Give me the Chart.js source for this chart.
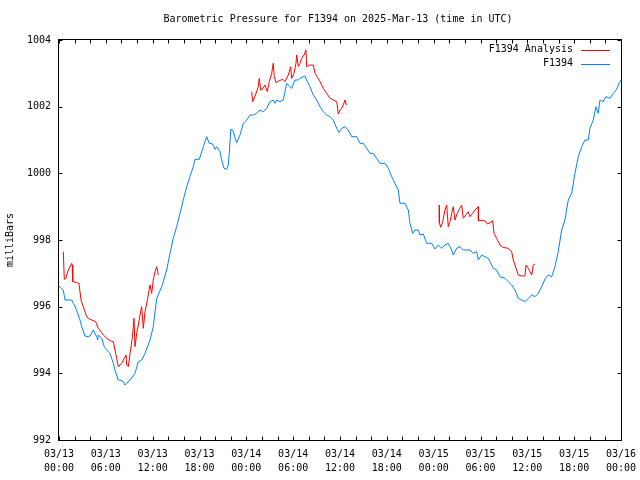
<!DOCTYPE html>
<html>
<head>
<meta charset="utf-8">
<script src="https://cdn.jsdelivr.net/npm/chart.js@4/dist/chart.umd.min.js"></script>
<style>
  html, body { margin: 0; padding: 0; background: #fff; }
  #wrap { width: 640px; height: 480px; }
</style>
</head>
<body>
<div id="wrap"><canvas id="c" width="640" height="480"></canvas></div>
<script>
// ---- Data (hours since 2025-03-13 00:00 UTC, pressure in milliBars) ----
const chartTitle = "Barometric Pressure for F1394 on 2025-Mar-13 (time in UTC)";
const yAxisTitle = "milliBars";
const seriesNames = ["F1394 Analysis", "F1394"];

const xTickLabels = [
  ["03/13","00:00"],["03/13","06:00"],["03/13","12:00"],["03/13","18:00"],
  ["03/14","00:00"],["03/14","06:00"],["03/14","12:00"],["03/14","18:00"],
  ["03/15","00:00"],["03/15","06:00"],["03/15","12:00"],["03/15","18:00"],
  ["03/16","00:00"]
];

const stationHours = [
  0,0.55,0.77,1.63,1.83,2.14,2.47,2.69,2.91,3.33,3.75,3.97,4.39,4.83,4.96,5.03,5.47,5.8,6.11,6.53,
  6.96,7.17,7.6,7.81,8.24,8.46,8.67,9.1,9.74,10.16,10.59,11.02,11.66,12.08,12.52,13.16,13.8,14.22,14.64,15.08,
  15.5,15.92,16.36,16.78,17.2,17.42,17.97,18.49,18.92,19.25,19.69,19.98,20.2,20.63,20.84,21.14,21.48,21.69,21.82,22.0,
  22.25,22.76,23.19,23.61,24.05,24.47,24.89,25.33,25.75,26.17,26.61,27.03,27.45,27.67,27.89,28.31,28.73,29.17,29.59,29.81,
  30.23,30.66,30.87,31.3,31.51,31.73,32.15,32.58,33.01,33.44,33.86,34.29,34.72,35.14,35.58,35.87,36.22,36.64,37.06,37.5,
  38.14,38.56,38.98,39.42,39.84,40.26,40.7,41.12,41.76,42.19,42.62,43.04,43.47,43.68,44.32,44.75,44.97,45.31,45.61,46.03,
  46.25,46.67,47.11,47.75,48.17,48.59,49.03,49.45,49.87,50.31,50.51,50.95,51.37,51.79,52.65,53.07,53.51,53.72,54.15,54.57,
  55.0,55.21,55.64,56.07,56.5,57.14,57.56,57.99,58.42,58.84,59.27,59.7,60.12,60.56,60.98,61.4,61.84,62.26,62.68,63.12,
  63.54,63.96,64.4,64.82,65.24,65.68,66.1,66.53,66.96,67.38,67.81,68.02,68.45,68.79,69.09,69.3,69.73,70.07,70.58,71.01,
  71.44,71.78,72
];
const stationValues = [
  996.62,996.5,996.2,996.2,996.1,995.96,995.75,995.6,995.4,995.12,995.1,995.12,995.3,995.1,995.0,995.15,995.05,994.8,994.7,994.6,
  994.3,994.1,993.8,993.8,993.75,993.65,993.7,993.8,994.0,994.35,994.4,994.6,995.0,995.4,996.25,996.6,997.1,997.6,998.06,998.4,
  998.8,999.2,999.6,999.9,1000.2,1000.42,1000.42,1000.8,1001.1,1000.9,1000.88,1000.72,1000.8,1000.65,1000.4,1000.15,1000.12,1000.25,1000.6,1001.32,
  1001.3,1000.92,1001.15,1001.5,1001.6,1001.75,1001.75,1001.8,1001.9,1001.85,1001.95,1002.15,1002.2,1002.1,1002.2,1002.15,1002.2,1002.7,1002.6,1002.55,
  1002.8,1002.8,1002.85,1002.9,1002.92,1002.8,1002.6,1002.35,1002.2,1002.0,1001.85,1001.75,1001.7,1001.6,1001.35,1001.22,1001.35,1001.4,1001.3,1001.1,
  1001.1,1000.9,1000.9,1000.75,1000.6,1000.6,1000.45,1000.3,1000.3,1000.15,999.9,999.7,999.5,999.1,999.1,998.9,998.5,998.2,998.3,998.3,
  998.15,998.18,997.9,997.9,997.73,997.85,997.75,997.85,997.9,997.7,997.55,997.75,997.8,997.7,997.7,997.6,997.65,997.4,997.55,997.5,
  997.45,997.35,997.15,997.1,996.9,996.85,996.75,996.65,996.5,996.25,996.2,996.15,996.25,996.35,996.3,996.4,996.6,996.83,996.95,996.9,
  997.2,997.65,998.3,998.6,999.2,999.4,1000.0,1000.5,1000.8,1001.0,1001.0,1001.35,1001.6,1002.0,1001.8,1002.2,1002.15,1002.3,1002.25,1002.4,
  1002.52,1002.72,1002.8
];

// Analysis series: null marks a gap between runs
const analysisHours = [
  0.55,0.68,0.86,1.19,1.63,1.7,1.76,2.27,2.56,2.82,3.11,3.55,3.75,4.19,4.7,5.03,5.47,5.68,6.11,6.53,
  6.96,7.26,7.6,7.81,8.03,8.46,8.58,8.67,8.88,9.1,9.39,9.61,9.74,9.95,10.16,10.38,10.59,10.8,11.02,11.36,
  11.66,11.88,12.08,12.3,12.52,12.72,
  18.0,
  24.69,24.81,25.1,25.53,25.66,25.84,25.97,26.39,26.69,26.94,27.25,27.45,27.58,27.8,28.22,28.66,28.95,29.38,29.68,29.81,
  30.11,30.36,30.45,30.66,30.87,31.09,31.39,31.64,31.73,32.15,32.58,32.8,33.09,33.44,33.86,34.29,34.72,35.14,35.58,35.78,
  36.0,36.22,36.42,36.64,36.77,36.93,
  42.0,
  48.72,48.73,48.9,49.15,49.45,49.67,49.87,50.09,50.31,50.51,50.73,51.02,51.28,51.59,51.79,52.14,52.43,52.65,52.99,53.29,
  53.72,53.73,54.57,54.87,55.21,55.56,55.73,56.07,56.5,56.84,57.56,57.99,58.2,58.63,58.84,59.27,59.7,59.83,60.12,60.56,
  60.76,60.98
];
const analysisValues = [
  997.65,996.82,996.85,997.1,997.3,997.25,996.75,996.72,996.7,996.2,996.0,995.7,995.65,995.6,995.55,995.35,995.22,995.15,995.05,994.98,
  994.95,994.6,994.2,994.25,994.3,994.5,994.55,994.25,994.2,994.6,995.05,995.65,994.8,995.2,995.45,995.75,996.0,995.35,995.85,996.25,
  996.65,996.4,996.8,997.05,997.2,996.95,
  null,
  1002.45,1002.15,1002.3,1002.6,1002.85,1002.5,1002.5,1002.65,1002.45,1002.75,1003.0,1003.3,1002.9,1002.72,1002.78,1002.82,1002.75,1002.95,1003.2,1002.85,
  1003.0,1003.3,1003.55,1003.2,1003.3,1003.45,1003.55,1003.7,1003.2,1003.25,1003.25,1003.0,1002.9,1002.75,1002.55,1002.4,1002.25,1002.2,1002.15,1001.78,
  1001.9,1001.95,1002.05,1002.2,1002.08,1002.05,
  null,
  999.05,998.52,998.38,998.55,998.9,999.05,998.4,998.55,998.8,999.0,998.6,998.8,998.92,999.05,998.65,998.75,998.85,998.7,998.8,998.9,
  999.0,998.58,998.58,998.48,998.52,998.58,998.2,998.05,997.85,997.78,997.75,997.65,997.4,997.1,996.95,996.92,996.92,997.25,997.15,996.95,
  997.25,997.28
];

const colors = ["rgb(255,0,0)", "rgb(0,128,255)"];
const FONT = "'DejaVu Sans Mono', 'Liberation Mono', monospace";

const toXY = (xs, ys) => xs.map((x, i) => ({ x: x, y: ys[i] }));

const framePlugin = {
  id: 'frame',
  afterDraw(chart) {
    const ctx = chart.ctx;
    const a = chart.chartArea;
    const xs = chart.scales.x, ys = chart.scales.y;
    ctx.save();
    // title
    ctx.font = "10px " + FONT;
    ctx.fillStyle = '#000';
    ctx.textAlign = 'center';
    ctx.textBaseline = 'middle';
    ctx.fillText(chartTitle, (a.left + a.right) / 2 - 2, 19);
    // frame
    ctx.strokeStyle = '#000';
    ctx.lineWidth = 1;
    const L = Math.round(a.left) - 0.5, R = Math.round(a.right) + 0.5;
    const T = Math.round(a.top) - 0.5, B = Math.round(a.bottom) + 0.5;
    ctx.strokeRect(L, T, R - L, B - T);
    const tl = 4;
    ctx.beginPath();
    xs.ticks.forEach(t => {
      const px = Math.round(xs.getPixelForValue(t.value)) + 0.5;
      ctx.moveTo(px, B); ctx.lineTo(px, B - tl);
      ctx.moveTo(px, T); ctx.lineTo(px, T + tl);
    });
    ys.ticks.forEach(t => {
      const py = Math.round(ys.getPixelForValue(t.value)) + 0.5;
      ctx.moveTo(L, py); ctx.lineTo(L + tl, py);
      ctx.moveTo(R, py); ctx.lineTo(R - tl, py);
    });
    ctx.stroke();
    // legend inside top-right
    ctx.textAlign = 'right';
    const textRight = a.right - 48;
    const lineL = a.right - 40, lineR = a.right - 11;
    chart.data.datasets.forEach((ds, i) => {
      const y = a.top + 9.5 + i * 14;
      ctx.fillStyle = '#000';
      ctx.fillText(ds.label, textRight, y);
      ctx.strokeStyle = ds.borderColor;
      ctx.beginPath();
      ctx.moveTo(lineL, Math.round(y) + 0.5);
      ctx.lineTo(lineR, Math.round(y) + 0.5);
      ctx.stroke();
    });
    ctx.restore();
  }
};

new Chart(document.getElementById('c'), {
  type: 'line',
  data: {
    datasets: [
      { label: seriesNames[0], data: toXY(analysisHours, analysisValues), borderColor: colors[0],
        borderWidth: 1, pointRadius: 0, tension: 0, spanGaps: false, fill: false },
      { label: seriesNames[1], data: toXY(stationHours, stationValues), borderColor: colors[1],
        borderWidth: 1, pointRadius: 0, tension: 0, fill: false }
    ]
  },
  options: {
    responsive: false,
    animation: false,
    devicePixelRatio: 1,
    layout: { padding: { left: 0, right: 19, top: 40, bottom: 0 } },
    plugins: {
      legend: { display: false },
      tooltip: { enabled: false },
      title: { display: false }
    },
    scales: {
      x: {
        type: 'linear', min: 0, max: 72,
        grid: { display: false, drawTicks: false },
        border: { display: false },
        afterFit(s) { s.height = 40; s.paddingLeft = 0; s.paddingRight = 0; },
        ticks: {
          stepSize: 2, autoSkip: false, maxRotation: 0, minRotation: 0, padding: 7,
          color: '#000', font: { family: FONT, size: 10, lineHeight: 1.4 },
          callback: (v) => (v % 6 === 0 ? xTickLabels[v / 6] : '')
        }
      },
      y: {
        type: 'linear', min: 992, max: 1004,
        grid: { display: false, drawTicks: false },
        border: { display: false },
        afterFit(s) { s.width = 59; s.paddingTop = 0; s.paddingBottom = 0; },
        title: {
          display: true, text: yAxisTitle, color: '#000',
          font: { family: FONT, size: 10, lineHeight: 1.2 }, padding: { top: 4, bottom: 0 }
        },
        ticks: {
          stepSize: 2, padding: 8, color: '#000',
          font: { family: FONT, size: 10 },
          callback: (v) => String(v)
        }
      }
    }
  },
  plugins: [framePlugin]
});
</script>
</body>
</html>
